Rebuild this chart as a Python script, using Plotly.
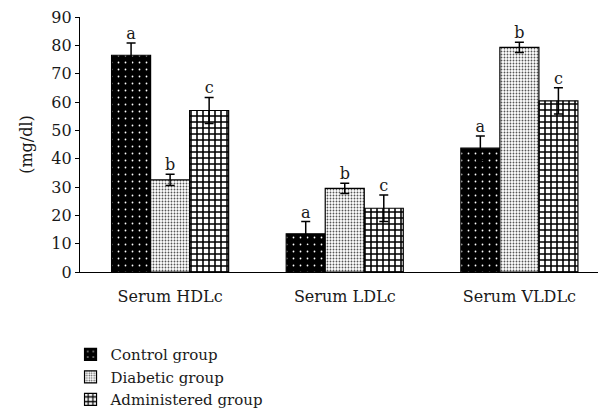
import plotly.graph_objects as go

categories = ["Serum HDLc", "Serum LDLc", "Serum VLDLc"]
groups = ["Control group", "Diabetic group", "Administered group"]
control = [76.5, 13.5, 43.7]
control_err = [4.3, 4.3, 4.3]
diabetic = [32.5, 29.5, 79.3]
diabetic_err = [2.0, 1.8, 1.8]
administered = [57.0, 22.5, 60.4]
administered_err = [4.6, 4.7, 4.6]
letters = ["a", "b", "c"]
y_ticks = [0, 10, 20, 30, 40, 50, 60, 70, 80, 90]

FONT = "DejaVu Serif"
TXT = "#1a1a1a"
bar_w = 0.2235
offsets = [-bar_w, 0.0, bar_w]
series = [control, diabetic, administered]
errors = [control_err, diabetic_err, administered_err]
patterns = [
    dict(shape=".", bgcolor="black", fgcolor="white", size=7, solidity=0.05, fillmode="replace"),
    dict(shape=".", bgcolor="white", fgcolor="#555555", size=3, solidity=0.3, fillmode="replace"),
    dict(shape="+", bgcolor="white", fgcolor="black", size=6, solidity=0.45, fillmode="replace"),
]

fig = go.Figure()
xc = list(range(len(categories)))
for g, vals, errs, pat, off in zip(groups, series, errors, patterns, offsets):
    xs = [i + off for i in xc]
    fig.add_trace(go.Bar(
        x=xs, y=vals, width=bar_w, name=g,
        marker=dict(color="white", pattern=pat, line=dict(color="black", width=1.2)),
        error_y=dict(type="data", array=errs, symmetric=True, color="black", thickness=1.5, width=4.5),
    ))
for letter, vals, errs, off in zip(letters, series, errors, offsets):
    xs = [i + off for i in xc]
    fig.add_trace(go.Scatter(
        x=xs, y=[v + e for v, e in zip(vals, errs)], mode="text", text=[letter] * len(xs),
        textposition="top center", textfont=dict(family=FONT, size=16, color=TXT),
        showlegend=False, hoverinfo="skip", cliponaxis=False,
    ))

fig.update_layout(
    width=598, height=411,
    margin=dict(l=72, r=0, t=9, b=147, autoexpand=False),
    plot_bgcolor="white", paper_bgcolor="white",
    font=dict(family=FONT, size=16, color=TXT),
    showlegend=True,
    legend=dict(x=-0.018, y=-0.259, xanchor="left", yanchor="top", orientation="v",
                font=dict(family=FONT, size=15, color=TXT), bgcolor="rgba(0,0,0,0)"),
    barmode="overlay",
)
fig.update_xaxes(
    range=[-0.516, 2.496], tickvals=xc, ticktext=categories, showline=True, linecolor="black",
    linewidth=1.2, ticks="", showgrid=False, zeroline=False, ticklabelstandoff=10,
    tickfont=dict(family=FONT, size=16, color=TXT),
)
fig.update_yaxes(
    range=[0, 90], tickvals=y_ticks, showline=True, linecolor="black", linewidth=1.2,
    ticks="outside", ticklen=4, tickcolor="black", showgrid=False, zeroline=False,
    ticklabeloverflow="allow",
    tickfont=dict(family=FONT, size=16, color=TXT),
    title=dict(text="(mg/dl)", standoff=14, font=dict(family=FONT, size=16, color=TXT)),
)
fig.write_html("out.html")
